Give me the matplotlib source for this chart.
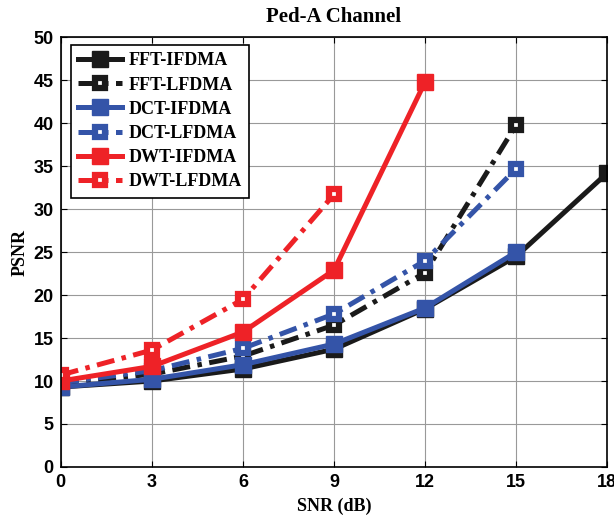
import matplotlib.pyplot as plt
import numpy as np

snr = [0, 3, 6, 9, 12, 15, 18]

fft_ifdma = [9.3, 10.0, 11.4, 13.7, 18.4, 24.5, 34.2]
fft_lfdma = [9.7, 10.8, 12.9, 16.5, 22.6, 39.8]
dct_ifdma = [9.3, 10.2, 11.9, 14.3, 18.5, 25.0]
dct_lfdma = [9.8, 11.2, 13.8, 17.8, 24.0, 34.7]
dwt_ifdma = [10.0, 11.7, 15.7, 22.9, 44.8]
dwt_lfdma = [10.7, 13.6, 19.5, 31.7]

black = '#1a1a1a'
blue = '#3454a8'
red = '#ee2227'

fig = plt.figure(figsize=(6.14, 5.16), dpi=100)
ax = fig.add_axes([0.099, 0.095, 0.89, 0.833])

dashdot = (0, (3.6, 1.5, 0.9, 1.5))
series = [
    (fft_ifdma, black, '-', True, 'FFT-IFDMA'),
    (fft_lfdma, black, dashdot, False, 'FFT-LFDMA'),
    (dct_ifdma, blue, '-', True, 'DCT-IFDMA'),
    (dct_lfdma, blue, dashdot, False, 'DCT-LFDMA'),
    (dwt_ifdma, red, '-', True, 'DWT-IFDMA'),
    (dwt_lfdma, red, dashdot, False, 'DWT-LFDMA'),
]
for vals, c, ls, filled, lab in series:
    if filled:
        ms, mew, fc = 11, 1, c
    else:
        ms, mew, fc = 7.5, 4.5, 'white'
    ax.plot(snr[:len(vals)], vals, color=c, linestyle=ls, linewidth=3.6,
            marker='s', markersize=ms, markeredgewidth=mew,
            markerfacecolor=fc, markeredgecolor=c, label=lab)

ax.set_xlim(0, 18)
ax.set_ylim(0, 50)
ax.set_xticks(snr)
ax.set_yticks(np.arange(0, 51, 5))
ax.grid(True, color='#999999', linewidth=0.8)
ax.tick_params(direction='in', top=True, right=True, length=4, labelsize=13,
               pad=5)
for t in ax.get_xticklabels() + ax.get_yticklabels():
    t.set_fontweight('bold')
    t.set_family('Liberation Sans')
for s in ax.spines.values():
    s.set_linewidth(1.2)

ax.set_title('Ped-A Channel', family='Liberation Serif', fontweight='bold',
             fontsize=15, pad=11)
ax.set_xlabel('SNR (dB)', family='Liberation Serif', fontweight='bold',
              fontsize=13, labelpad=5)
ax.set_ylabel('PSNR', family='Liberation Serif', fontweight='bold',
              fontsize=13, labelpad=4)

leg = ax.legend(loc='upper left', bbox_to_anchor=(0.012, 0.99), fancybox=False,
                framealpha=1, edgecolor='black', handlelength=2.4,
                handletextpad=0.4, borderpad=0.4, labelspacing=0.4,
                borderaxespad=0.2,
                prop={'family': 'Liberation Serif', 'weight': 'bold', 'size': 13})
leg.get_frame().set_linewidth(1.2)

plt.savefig('out.png', dpi=100)
